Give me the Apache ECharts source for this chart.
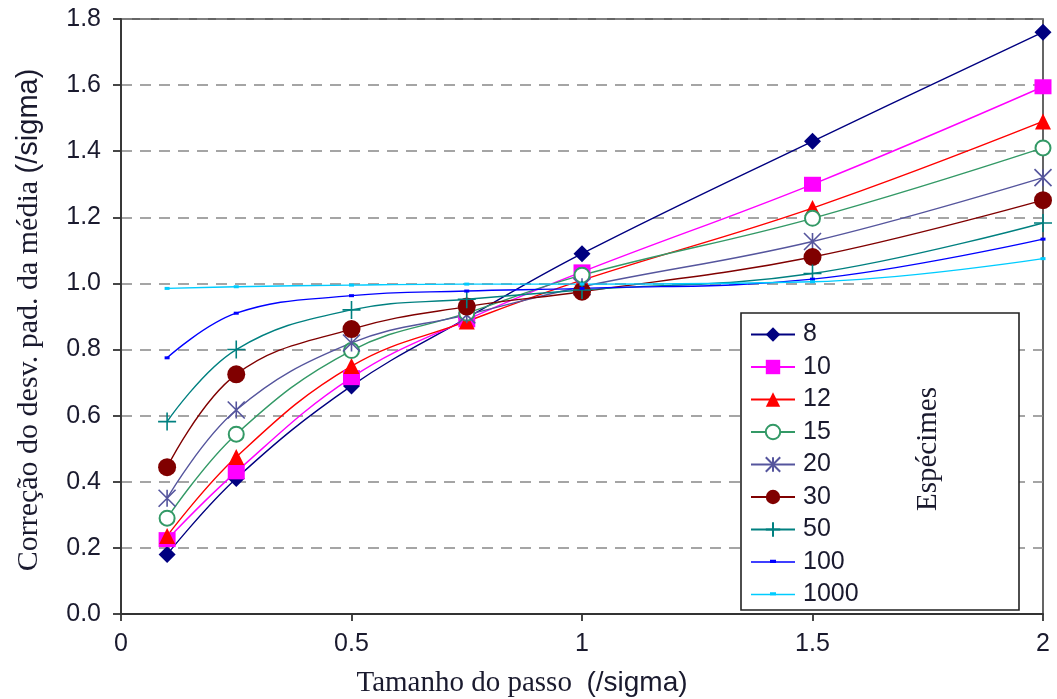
<!DOCTYPE html>
<html>
<head>
<meta charset="utf-8">
<script src="https://cdn.jsdelivr.net/npm/echarts@6/dist/echarts.min.js"></script>
<style>
  html, body { margin: 0; padding: 0; background: #fff; }
  #chart { width: 1057px; height: 699px; }
</style>
</head>
<body>
<div id="chart"></div>
<script>
// Step size (in sigma units) at which each curve was evaluated
const stepSizes = [0.1, 0.25, 0.5, 0.75, 1, 1.5, 2];

// Correction of the std. dev. of the mean, one array per number of specimens
const n8    = [0.180, 0.410, 0.690, 0.895, 1.090, 1.430, 1.760];
const n10   = [0.225, 0.430, 0.715, 0.890, 1.035, 1.300, 1.595];
const n12   = [0.236, 0.475, 0.750, 0.885, 1.010, 1.228, 1.490];
const n15   = [0.290, 0.544, 0.797, 0.910, 1.025, 1.197, 1.410];
const n20   = [0.350, 0.617, 0.820, 0.905, 0.990, 1.127, 1.320];
const n30   = [0.444, 0.725, 0.862, 0.930, 0.975, 1.080, 1.252];
const n50   = [0.582, 0.800, 0.920, 0.952, 0.980, 1.030, 1.183];
const n100  = [0.775, 0.910, 0.963, 0.977, 0.985, 1.013, 1.134];
const n1000 = [0.985, 0.990, 0.995, 0.998, 0.998, 1.005, 1.075];

const seriesNames = ['8', '10', '12', '15', '20', '30', '50', '100', '1000'];
const seriesValues = [n8, n10, n12, n15, n20, n30, n50, n100, n1000];

const yTicks = [0, 0.2, 0.4, 0.6, 0.8, 1.0, 1.2, 1.4, 1.6, 1.8];
const xTicks = [0, 0.5, 1, 1.5, 2];

const SANS = '"Liberation Sans", Arial, sans-serif';
const SERIF = '"Liberation Serif", "Times New Roman", serif';
const TEXT = '#1a1a2e';

// Legend glyph for the small dash markers: a line with a tiny block on it
// (the two specks at the corners fix the glyph's bounding box)
const dashIcon = 'path://M0,0 L0.01,0 L0,0.01 Z M44,18 L43.99,18 L44,17.99 Z ' +
                 'M0,8.3 L44,8.3 L44,9.7 L0,9.7 Z M19,6.8 L25,6.8 L25,10 L19,10 Z';

const styles = [
  { color: '#000080', symbol: 'diamond', size: 17 },
  { color: '#ff00ff', symbol: 'rect', size: [17, 15] },
  { color: '#ff0000', symbol: 'triangle', size: 16 },
  { color: '#339966', symbol: 'emptyCircle', size: 15 },
  { color: '#55559d', symbol: 'path://M0,0 L10,10 M10,0 L0,10 M5,0 L5,10', size: 17 },
  { color: '#800000', symbol: 'circle', size: 18 },
  { color: '#008080', symbol: 'path://M5,0 L5,10 M0,5 L10,5', size: 18 },
  { color: '#0000ff', symbol: 'rect', size: [5, 3], legendIcon: dashIcon },
  { color: '#00ccff', symbol: 'rect', size: [5, 3], legendIcon: dashIcon }
];

const series = seriesNames.map((name, i) => {
  const st = styles[i];
  const stroked = st.symbol.startsWith('path://') || st.symbol === 'emptyCircle';
  return {
    name: name,
    type: 'line',
    smooth: 0.4,
    data: stepSizes.map((x, k) => [x, seriesValues[i][k]]),
    symbol: st.symbol,
    symbolSize: st.size,
    showAllSymbol: true,
    lineStyle: { color: st.color, width: 1.4 },
    itemStyle: stroked
      ? { color: st.color, borderColor: st.color, borderWidth: 1.6 }
      : { color: st.color, borderWidth: 0 },
    emphasis: { disabled: true }
  };
});

const legendData = seriesNames.map((name, i) =>
  styles[i].legendIcon ? { name: name, icon: styles[i].legendIcon } : { name: name });

const chart = echarts.init(document.getElementById('chart'), null, { renderer: 'canvas' });

chart.setOption({
  animation: false,
  backgroundColor: '#fff',
  grid: {
    left: 121, right: 14, top: 19, bottom: 85,
    show: true, borderColor: '#333', borderWidth: 1.5, backgroundColor: 'transparent'
  },
  xAxis: {
    type: 'value',
    min: xTicks[0], max: xTicks[xTicks.length - 1], interval: 0.5,
    axisLine: { show: true, onZero: false, lineStyle: { color: '#333', width: 1.8 } },
    axisTick: { show: true, length: 7, lineStyle: { color: '#333', width: 1.8 } },
    axisLabel: { fontFamily: SANS, fontSize: 25, color: TEXT, margin: 18 },
    splitLine: { show: false }
  },
  yAxis: {
    type: 'value',
    min: yTicks[0], max: yTicks[yTicks.length - 1], interval: 0.2,
    axisLine: { show: true, lineStyle: { color: '#333', width: 1.8 } },
    axisTick: { show: true, length: 8, lineStyle: { color: '#333', width: 1.8 } },
    axisLabel: {
      fontFamily: SANS, fontSize: 25, color: TEXT, margin: 20,
      formatter: v => v.toFixed(1)
    },
    splitLine: { show: true, lineStyle: { color: '#888', width: 1.6, type: [11, 8] } }
  },
  legend: {
    orient: 'vertical',
    left: 750, top: 322,
    padding: 0,
    itemWidth: 44, itemHeight: 18, itemGap: 7.5,
    data: legendData,
    textStyle: { fontFamily: SANS, fontSize: 25, color: TEXT, lineHeight: 25, padding: [0, 0, 0, 3] },
    selectedMode: false,
    z: 20
  },
  graphic: [
    {
      type: 'rect', z: 15,
      shape: { x: 741, y: 313, width: 278, height: 297 },
      style: { fill: '#fff', stroke: '#222', lineWidth: 1.6 }
    },
    {
      type: 'text', z: 21,
      x: 928, y: 449, rotation: Math.PI / 2,
      style: {
        text: 'Espécimes', fill: TEXT,
        font: '29px ' + SERIF, align: 'center', verticalAlign: 'middle'
      }
    },
    {
      type: 'text', z: 21,
      x: 522, y: 683,
      style: {
        text: '{s|Tamanho do passo  }{a|(/sigma)}',
        align: 'center', verticalAlign: 'middle',
        rich: {
          s: { fontFamily: SERIF, fontSize: 29, fill: TEXT },
          a: { fontFamily: SANS, fontSize: 28, fill: TEXT }
        }
      }
    },
    {
      type: 'text', z: 21,
      x: 29, y: 320, rotation: Math.PI / 2,
      style: {
        text: '{s|Correção do desv. pad. da média }{a|(/sigma)}',
        align: 'center', verticalAlign: 'middle',
        rich: {
          s: { fontFamily: SERIF, fontSize: 30, fill: TEXT },
          a: { fontFamily: SANS, fontSize: 29, fill: TEXT }
        }
      }
    }
  ],
  series: series
});
</script>
</body>
</html>
